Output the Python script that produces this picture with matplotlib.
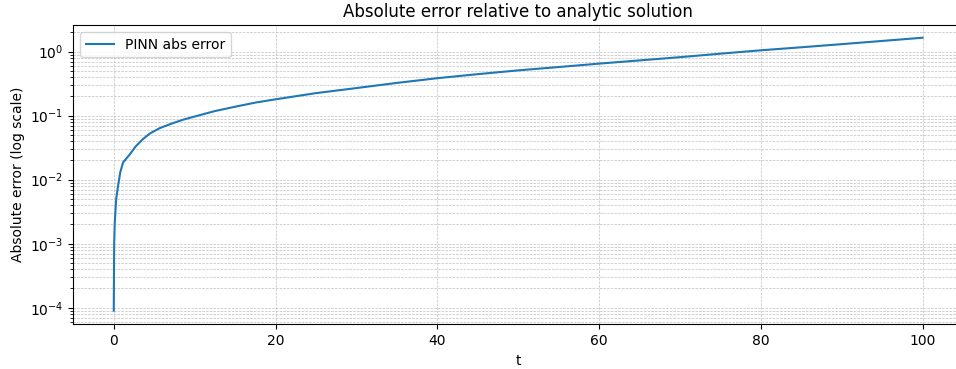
import matplotlib
matplotlib.use("Agg")
import matplotlib.pyplot as plt

# PINN absolute error vs time
t = [0.0, 0.05, 0.12, 0.3, 0.53, 0.8, 1.15, 1.5, 2.0, 2.7, 3.6, 4.5, 5.7, 7.0, 8.5,
     10, 12.5, 15, 17.5, 20, 25, 30, 35, 40, 45, 50, 55, 60, 65, 70, 75, 80, 85,
     90, 95, 100]
abs_error = [9e-5, 1.0e-3, 2.1e-3, 5.0e-3, 8.0e-3, 1.3e-2, 1.86e-2, 2.1e-2, 2.5e-2,
             3.3e-2, 4.3e-2, 5.3e-2, 6.4e-2, 7.4e-2, 8.6e-2,
             0.097, 0.118, 0.138, 0.16, 0.18, 0.225, 0.27, 0.325, 0.385, 0.445,
             0.51, 0.575, 0.65, 0.73, 0.82, 0.93, 1.05, 1.17, 1.31, 1.47, 1.65]

fig, ax = plt.subplots(figsize=(9.56, 3.69), dpi=100)
fig.subplots_adjust(left=0.0767, right=1.0073, top=0.932, bottom=0.121)

ax.plot(t, abs_error, color="#1f77b4", lw=1.5, label="PINN abs error")
ax.set_yscale("log")
ax.set_xlim(-5, 105)
ax.set_ylim(5.5e-5, 2.6)
ax.set_xticks([0, 20, 40, 60, 80, 100])
ax.set_xlabel("t")
ax.set_ylabel("Absolute error (log scale)")
ax.set_title("Absolute error relative to analytic solution")
ax.grid(True, which="both", ls="--", lw=0.5, color="#b0b0b0", alpha=0.8)
ax.legend(loc="upper left")

fig.savefig("out.png", dpi=100)
